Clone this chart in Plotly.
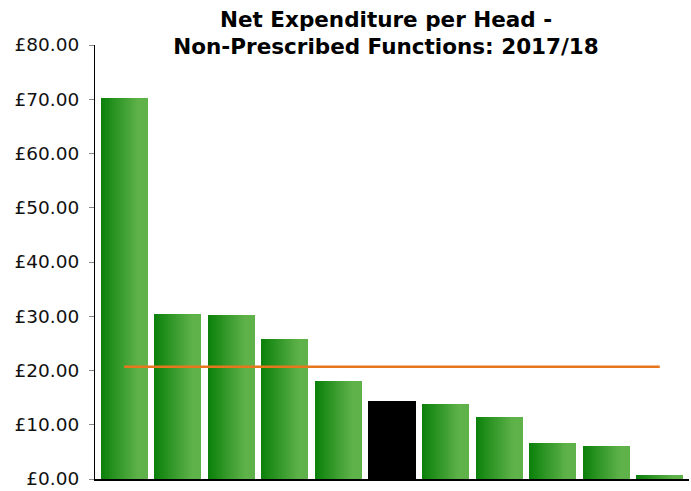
import numpy as np
import plotly.graph_objects as go

# Net expenditure per head (GBP), non-prescribed functions, 2017/18
authorities = ["A", "B", "C", "D", "E", "F", "G", "H", "I", "J", "K"]
spend_per_head = [70.30, 30.46, 30.28, 25.87, 17.98, 14.31, 13.76, 11.38, 6.60, 6.06, 0.73]
highlight_index = 5  # the authority drawn in black
y_ticks = [0, 10, 20, 30, 40, 50, 60, 70, 80]
y_tick_labels = ["\u00a3%.2f" % v for v in y_ticks]

average = float(np.mean(spend_per_head))

DARK = np.array([10, 128, 10])
LIGHT = np.array([95, 178, 74])
BAR_WIDTH = 0.88
N_STRIPS = 24

x_pos = list(range(len(authorities)))
fig = go.Figure()

# Each bar is built from thin vertical strips to give a left-to-right green gradient
strip_w = BAR_WIDTH / N_STRIPS
for i in range(N_STRIPS):
    t = min(1.0, (i + 0.5) / N_STRIPS / 0.8)
    rgb = DARK + (LIGHT - DARK) * t
    green = "rgb(%d,%d,%d)" % tuple(int(round(c)) for c in rgb)
    colors = ["#000000" if k == highlight_index else green for k in x_pos]
    fig.add_trace(go.Bar(
        x=x_pos,
        y=spend_per_head,
        width=strip_w * 1.15 if i < N_STRIPS - 1 else strip_w,
        offset=-BAR_WIDTH / 2 + i * strip_w,
        marker=dict(color=colors, line=dict(width=0)),
        showlegend=False,
        hoverinfo="skip",
    ))

# Average line across all authorities
fig.add_trace(go.Scatter(
    x=x_pos,
    y=[average] * len(x_pos),
    mode="lines",
    line=dict(color="#e8761c", width=2.5),
    showlegend=False,
    hoverinfo="skip",
))

fig.update_layout(
    width=691,
    height=491,
    barmode="overlay",
    bargap=0,
    plot_bgcolor="white",
    paper_bgcolor="white",
    margin=dict(l=95, r=2, t=45, b=10),
    font=dict(family="DejaVu Sans", color="#111111"),
    title=dict(
        text="<b>Net Expenditure per Head -<br>Non-Prescribed Functions: 2017/18</b>",
        font=dict(family="DejaVu Sans", size=21.5, color="#000000"),
        x=0.49,
        xref="paper",
        xanchor="center",
        y=0.946,
        yref="container",
        yanchor="middle",
    ),
    xaxis=dict(
        range=[-0.546, 10.546],
        showticklabels=False,
        ticks="",
        showgrid=False,
        zeroline=False,
        showline=True,
        linecolor="#000000",
        linewidth=1.5,
    ),
    yaxis=dict(
        range=[0, 80],
        tickvals=y_ticks,
        ticktext=y_tick_labels,
        ticks="outside",
        ticklen=5,
        tickcolor="#888888",
        ticklabelstandoff=6,
        ticklabeloverflow="allow",
        tickfont=dict(family="DejaVu Sans", size=18.5, color="#111111"),
        showgrid=False,
        zeroline=False,
        showline=True,
        linecolor="#000000",
        linewidth=1,
    ),
)

fig.write_html("out.html")
